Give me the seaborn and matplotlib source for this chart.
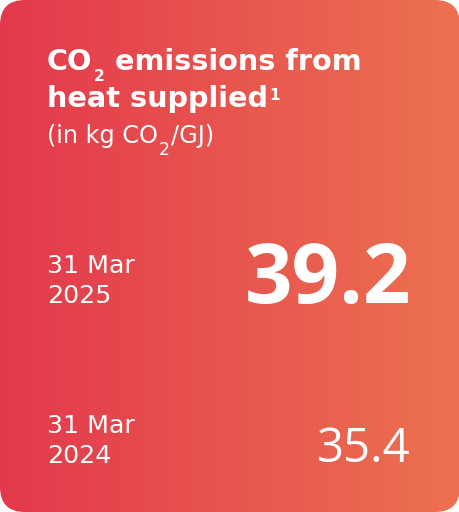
import numpy as np
import pandas as pd
import matplotlib
matplotlib.use("Agg")
import matplotlib.pyplot as plt
import matplotlib.transforms as mtransforms
from matplotlib.patches import FancyBboxPatch
from matplotlib.colors import LinearSegmentedColormap
import seaborn as sns

# ---- data ----
title_line1 = ["CO", "2", " emissions from"]
title_line2 = ["heat supplied", "1"]
unit_parts = ["(in kg CO", "2", "/GJ)"]
date_labels = ["31 Mar\n2025", "31 Mar\n2024"]
values = [39.2, 35.4]

left_color = "#E3384C"
right_color = "#EB7150"

sns.set_theme(style="white")
plt.rcParams["font.family"] = ["DejaVu Sans"]
NUMFONT = ["Open Sans", "DejaVu Sans"]

W, H = 460, 512
fig = plt.figure(figsize=(W / 100, H / 100), dpi=100)
fig.patch.set_facecolor("white")
ax = fig.add_axes([0, 0, 1, 1])

# gradient background via seaborn heatmap
grad = pd.DataFrame(np.tile(np.linspace(0, 1, W), (2, 1)))
cmap = LinearSegmentedColormap.from_list("card", [left_color, right_color])
sns.heatmap(grad, ax=ax, cmap=cmap, cbar=False, xticklabels=False, yticklabels=False)
ax.set_xlim(0, W)
ax.set_ylim(H, 0)
ax.set_axis_off()

mesh = ax.collections[0]
mesh.set_transform(mtransforms.Affine2D().scale(W / grad.shape[1], H / grad.shape[0]) + ax.transData)
rect = FancyBboxPatch((0, 0), W, H, boxstyle="round,pad=0,rounding_size=25",
                      transform=ax.transData, facecolor="none", edgecolor="none")
ax.add_patch(rect)
mesh.set_clip_path(rect)

fig.canvas.draw()
renderer = fig.canvas.get_renderer()


def seq(x, y, parts, sizes, dys, weight, gap=1):
    for txt, sz, dy in zip(parts, sizes, dys):
        t = ax.text(x, y + dy, txt, color="white", fontsize=sz, fontweight=weight,
                    ha="left", va="baseline")
        bb = t.get_window_extent(renderer=renderer)
        x += bb.width + gap
    return x


seq(47, 70, title_line1, [20.7, 11, 20.7], [0, 11, 0], "bold")
seq(47, 107, title_line2, [20.7, 11], [0, -7], "bold")
seq(47, 143, unit_parts, [17.3, 12.5, 17.3], [0, 12, 0], "normal")

date_y = [273, 433]
num_y = [303, 462]
num_sizes = [60, 34]
num_weights = ["bold", "normal"]
for d, v, yb, ny, ns, nw in zip(date_labels, values, date_y, num_y, num_sizes, num_weights):
    l1, l2 = d.split("\n")
    ax.text(47, yb, l1, color="white", fontsize=18.2, ha="left", va="baseline")
    ax.text(47, yb + 30, l2, color="white", fontsize=18.2, ha="left", va="baseline")
    ax.text(411, ny, f"{v:.1f}", color="white", fontsize=ns, fontweight=nw,
            family=NUMFONT, ha="right", va="baseline")

fig.savefig("out.png", dpi=100, facecolor="white")
